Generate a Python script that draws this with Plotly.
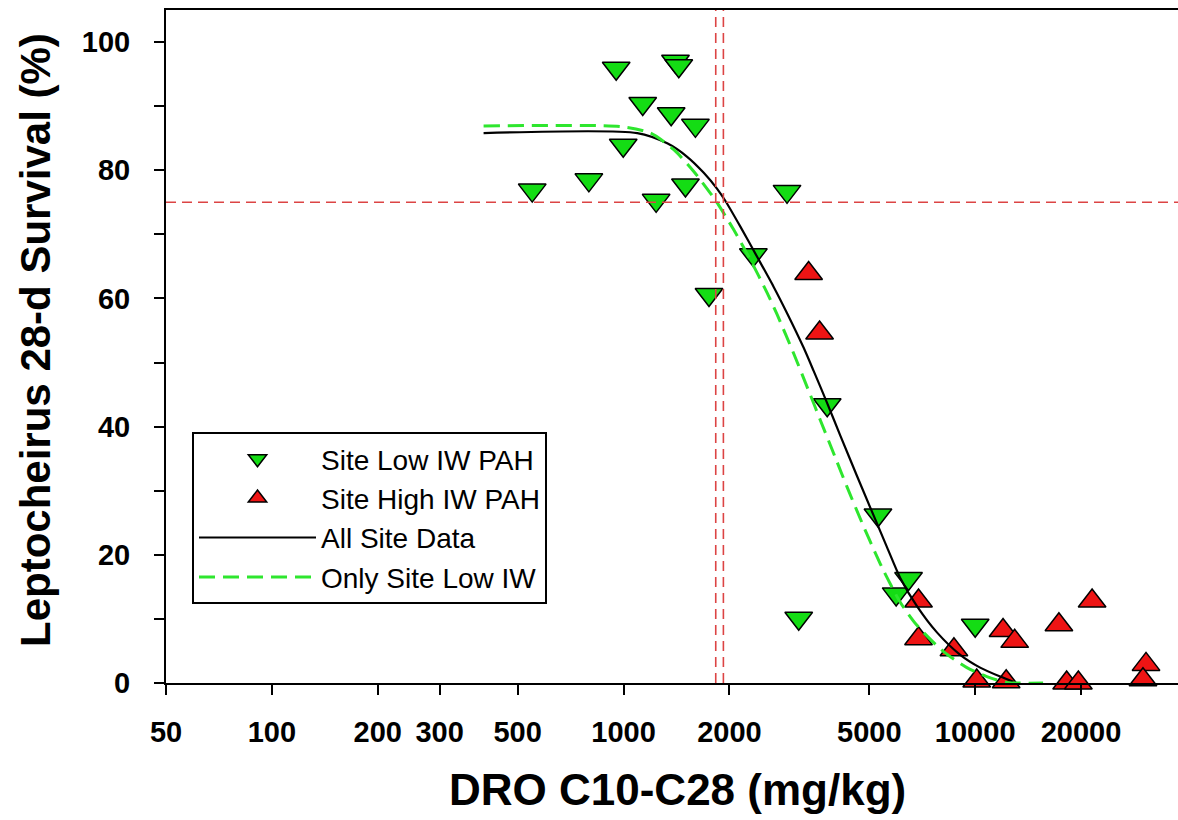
import plotly.graph_objects as go

# Survival vs. DRO C10-C28 concentration
low_x = [550, 797, 953, 998, 1134, 1238, 1366, 1405, 1436, 1500, 1601, 1750,
         2340, 2917, 3149, 3795, 5291, 5960, 6464, 10000]
low_y = [76.9, 78.5, 95.9, 83.9, 90.4, 75.3, 88.8, 97.0, 96.3, 77.7, 87.0, 60.6,
         66.8, 76.7, 10.1, 43.4, 26.2, 13.9, 16.3, 9.0]

high_x = [3360, 3610, 6900, 6900, 8700, 12000, 12950, 10100, 12250, 17300, 21500,
          18200, 19650, 30600, 30000]
high_y = [63.9, 54.6, 12.8, 6.9, 5.2, 8.2, 6.5, 0.3, 0.2, 9.1, 12.8, 0.0, 0.0, 2.9, 0.5]

# Fitted curves (all site data, and low-IW-only data)
all_fit_x = [400, 1094, 1331, 1517, 1691, 1846, 1949, 2149, 2398, 2673, 2918, 3253,
             3472, 3791, 4135, 4612, 5612, 6121, 6829, 7784, 9066, 10332, 11778, 12850]
all_fit_y = [85.8, 85.8, 84.2, 82.1, 79.6, 77.1, 75.2, 71.2, 66.5, 61.8, 57.7, 52.3,
             48.7, 43.7, 38.6, 32.3, 21.2, 16.4, 12.0, 7.9, 4.4, 2.4, 1.0, 0.2]

low_fit_x = [400, 980, 1193, 1390, 1584, 1767, 1853, 2058, 2296, 2559, 2733, 3047,
             3400, 3628, 4000, 4320, 4800, 5257, 5490, 6121, 6829, 8128, 9471, 10794,
             12303, 15600]
low_fit_y = [86.9, 86.8, 85.8, 83.2, 79.8, 76.4, 74.8, 70.7, 66.0, 60.9, 57.5, 51.4,
             44.9, 41.0, 35.2, 30.6, 24.6, 19.7, 17.5, 12.6, 9.0, 4.9, 2.4, 1.0,
             0.1, 0.0]

# Reference levels: 75% survival and the two matching concentrations
ref_survival = 75
ref_conc = [1829, 1923]

x_ticks = [50, 100, 200, 300, 500, 1000, 2000, 5000, 10000, 20000]
y_ticks = [0, 20, 40, 60, 80, 100]
y_minor_ticks = [10, 30, 50, 70, 90]

x_range = [1.69897, 4.5767]
y_range = [0, 105]

FONT = "Arial, Liberation Sans, sans-serif"
GREEN = "#14dc14"
RED = "#ee1414"
REF = "#dc4444"

fig = go.Figure()

fig.add_trace(go.Scatter(
    x=low_x, y=low_y, mode="markers", name="Site Low IW PAH",
    marker=dict(symbol="triangle-down", size=24, color=GREEN,
                line=dict(color="black", width=1.5)),
    cliponaxis=False,
))
fig.add_trace(go.Scatter(
    x=high_x, y=high_y, mode="markers", name="Site High IW PAH",
    marker=dict(symbol="triangle-up", size=24, color=RED,
                line=dict(color="black", width=1.5)),
    cliponaxis=False,
))
fig.add_trace(go.Scatter(
    x=all_fit_x, y=all_fit_y, mode="lines", name="All Site Data",
    line=dict(color="black", width=2.2, shape="spline", smoothing=0.7),
))
fig.add_trace(go.Scatter(
    x=low_fit_x, y=low_fit_y, mode="lines", name="Only Site Low IW",
    line=dict(color="#2ee62e", width=3, dash="16px,8px", shape="spline", smoothing=0.7),
))

# Dashed reference lines drawn on top of the data
fig.add_trace(go.Scatter(
    x=[10 ** x_range[0], 10 ** x_range[1]], y=[ref_survival, ref_survival],
    mode="lines", showlegend=False, hoverinfo="skip",
    line=dict(color=REF, width=1.6, dash="10px,6px"),
))
for c in ref_conc:
    fig.add_trace(go.Scatter(
        x=[c, c], y=y_range, mode="lines", showlegend=False, hoverinfo="skip",
        line=dict(color=REF, width=1.6, dash="10px,6px"),
    ))

fig.update_xaxes(
    type="log", range=x_range,
    tickmode="array", tickvals=x_ticks, ticktext=[str(v) for v in x_ticks],
    ticks="outside", ticklen=10, tickwidth=2, tickcolor="black",
    showline=True, linecolor="black", linewidth=2, mirror=True,
    showgrid=False, zeroline=False,
    tickfont=dict(family=FONT, size=29, color="black", weight="bold"),
    ticklabelstandoff=12,
)
fig.update_yaxes(
    range=y_range,
    tickmode="array", tickvals=y_ticks,
    ticks="outside", ticklen=10, tickwidth=2, tickcolor="black",
    minor=dict(tickmode="array", tickvals=y_minor_ticks,
               ticks="outside", ticklen=10, tickwidth=2, tickcolor="black"),
    showline=True, linecolor="black", linewidth=2,
    showgrid=False, zeroline=False,
    tickfont=dict(family=FONT, size=29, color="black", weight="bold"),
    ticklabelstandoff=18,
)

PLOT_L, PLOT_R, PLOT_T, PLOT_B = 166, 1178, 10, 683


def px_to_paper(px, py):
    return (px - PLOT_L) / (PLOT_R - PLOT_L), (PLOT_B - py) / (PLOT_B - PLOT_T)


tx, ty = px_to_paper(677, 790)
yx, yy = px_to_paper(35, 340)
fig.add_annotation(
    text="DRO C10-C28 (mg/kg)", xref="paper", yref="paper", x=tx, y=ty,
    showarrow=False, xanchor="center", yanchor="middle",
    font=dict(family=FONT, size=44, color="black", weight="bold"),
)
fig.add_annotation(
    text="Leptocheirus 28-d Survival (%)", xref="paper", yref="paper", x=yx, y=yy,
    showarrow=False, xanchor="center", yanchor="middle", textangle=-90,
    font=dict(family=FONT, size=42, color="black", weight="bold"),
)

lx, ly = px_to_paper(192, 432)
fig.update_layout(
    width=1178, height=820,
    margin=dict(l=PLOT_L, r=1178 - PLOT_R, t=PLOT_T, b=820 - PLOT_B),
    plot_bgcolor="white", paper_bgcolor="white",
    showlegend=True,
    legend=dict(
        x=lx, y=ly, xanchor="left", yanchor="top",
        bgcolor="white", bordercolor="black", borderwidth=2,
        font=dict(family=FONT, size=28, color="black"),
        itemwidth=117, tracegroupgap=0, traceorder="normal",
    ),
)

fig.write_html("out.html")
